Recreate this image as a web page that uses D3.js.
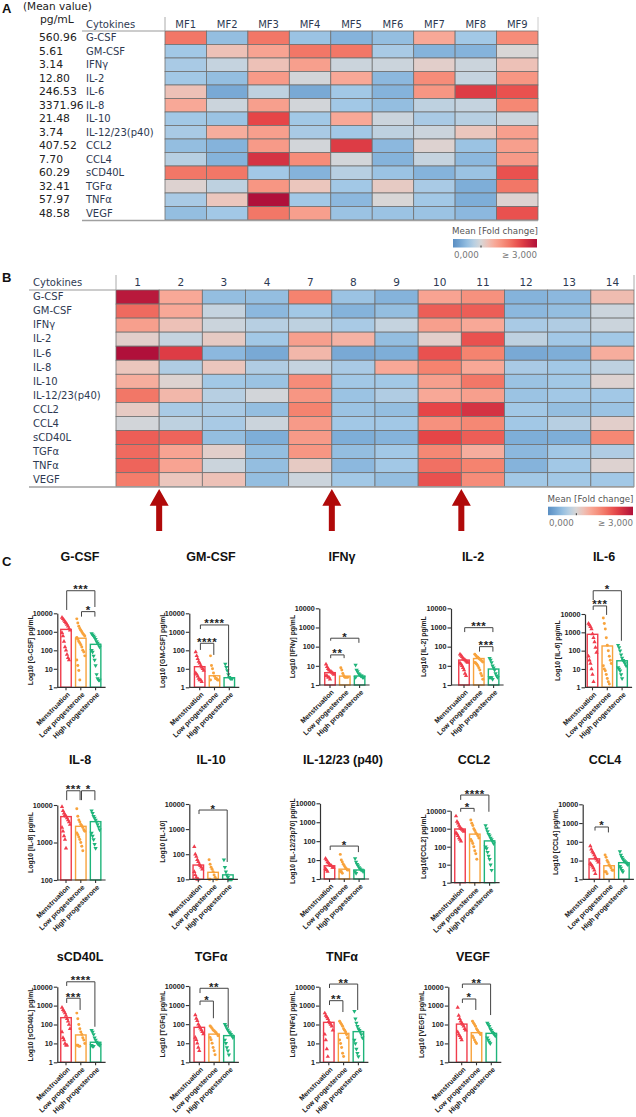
<!DOCTYPE html>
<html>
<head>
<meta charset="utf-8">
<title>Cytokines</title>
<script src="https://cdn.jsdelivr.net/npm/d3@7"></script>
<style>
  body { margin: 0; background: #fff }
  svg { display: block }
</style>
</head>
<body>
<svg width="636" height="1117"></svg>
<script>
// ---- data ----
var cytokines = ['G-CSF','GM-CSF','IFNγ','IL-2','IL-6','IL-8','IL-10','IL-12/23(p40)','CCL2','CCL4','sCD40L','TGFα','TNFα','VEGF']
var meanValues = ['560.96','5.61','3.14','12.80','246.53','3371.96','21.48','3.74','407.52','7.70','60.29','32.41','57.97','48.58']
var factors = ['MF1','MF2','MF3','MF4','MF5','MF6','MF7','MF8','MF9']
// fold change, rows = cytokines, cols = MF1..MF9
var foldA = [
  [2.0, .5, 2.0, .55, .4, .5, 1.5, .6, 1.8],
  [.6, 1.25, 1.55, 2.0, 2.0, .65, .4, .4, 1.0],
  [.65, .85, 1.25, 1.6, .9, .9, 1.1, .9, 1.25],
  [.6, .5, 1.65, .95, 1.5, .45, 1.8, .85, 1.7],
  [1.25, .3, .8, .3, .6, .4, 1.7, 2.5, 2.3],
  [1.5, .9, 1.6, .95, .6, .5, .8, .85, 1.85],
  [.6, .55, 2.4, .6, 1.5, .9, .65, .75, .9],
  [.65, 1.45, 1.6, .65, .6, .8, .9, 1.2, 1.6],
  [.5, .4, 1.65, .95, 2.5, .45, 1.05, .55, 1.6],
  [.75, .4, 2.6, 1.8, .95, .4, .85, .45, 1.65],
  [2.0, 2.0, .6, .4, .75, .55, .4, .55, 2.3],
  [1.05, .8, 1.7, 1.2, .6, 1.15, .65, .35, 2.0],
  [.65, 1.2, 3.0, .6, .45, 1.0, .6, .35, 1.05],
  [.5, .6, 2.0, 1.6, .55, .55, .55, .45, 2.3]
]
var clusters = ['1','2','3','4','7','8','9','10','11','12','13','14']
var foldB = [
  [2.9, 1.5, .5, .5, 1.9, .55, .4, 1.55, 1.75, .4, .45, 1.3],
  [2.1, 1.5, .85, .45, .6, .4, .5, 2.2, 2.2, .45, .5, .9],
  [1.6, 1.25, .9, .75, .8, .65, .85, 1.6, 1.5, .65, .7, .9],
  [1.1, .85, 1.15, .6, 1.6, 1.4, .5, 1.1, 2.3, .8, .6, .6],
  [3.0, 2.5, .45, .3, 1.35, .3, .35, 2.3, 1.9, .3, .35, 1.45],
  [1.2, .7, 1.2, .7, .85, .65, 1.5, 1.9, 1.5, .65, .6, .8],
  [1.45, 1.05, .6, .55, 1.8, .6, .6, 1.6, 2.0, .55, .6, 1.05],
  [2.0, 1.35, .75, .95, 1.7, .55, .7, 1.5, 1.6, .55, .6, .6],
  [1.15, .65, .65, .5, 1.9, .55, .5, 2.4, 2.6, .6, .5, .55],
  [.95, .8, .65, .9, 1.65, .6, .6, 1.75, 1.85, .6, .75, 1.1],
  [2.2, 2.15, .5, .35, 1.65, .35, .4, 2.4, 2.2, .35, .35, 1.85],
  [2.1, 1.55, 1.1, .5, 1.7, .5, .6, 1.85, 1.45, .45, .6, .7],
  [2.15, 1.55, .9, .5, 1.15, .45, .6, 2.05, 1.9, .4, .6, 1.05],
  [1.95, 1.2, 1.25, .5, .9, .6, .5, 2.3, 1.8, .6, .6, .6]
]
var arrowPairs = [['1','2'], ['7','8'], ['10','11']]

var groups = ['Menstruation','Low progesterone','High progesterone']
var plotTitles = ['G-CSF','GM-CSF','IFNγ','IL-2','IL-6','IL-8','IL-10','IL-12/23 (p40)','CCL2','CCL4','sCD40L','TGFα','TNFα','VEGF']
var yTitles = ['Log10 [G-CSF] pg/mL','Log10 [GM-CSF] pg/mL','Log10 [IFNγ] pg/mL','Log10 [IL-2] pg/mL','Log10 [IL-6] pg/mL',
  'Log10 [IL-8] pg/mL','Log10 [IL-10]','Log10 [IL-12/23p70] pg/mL','Log10[CCL2] pg/mL','Log10 [CCL4] pg/mL',
  'Log10 [sCD40L] pg/mL','Log10 [TGFα] pg/mL','Log10 [TNFα] pg/mL','Log10 [VEGF] pg/mL']
var yMin = [1, 1, 1, 1, 1, 100, 10, 1, 1, 1, 1, 1, 1, 1]
// bar heights (mean pg/mL) per group
var barMeans = [
  [1350, 450, 210], [13, 4.2, 3.3], [4.4, 2.9, 2.95], [20, 24, 6.8], [780, 180, 28],
  [4900, 2700, 3600], [37, 19, 15], [5, 3.3, 3], [960, 500, 210], [12.3, 5.3, 7.7],
  [230, 28, 11.5], [68, 30, 25], [130, 34, 42], [105, 37, 34]
]
// individual samples (pg/mL): [menstruation, low, high]
var samples = [
  [[6000,5000,4200,3500,3000,2500,2000,1500,1200,900,600,300,150,100,60,40,30],
   [5000,3000,2000,1500,1200,1000,800,700,600,500,400,300,250,200,150,100,80,50,30,15,8,2.5],
   [800,700,600,500,400,300,250,200,150,100,80,50,30,15,5,3,2.5,2.5]],
  [[80,50,35,25,20,15,12,10,8,6,5,4,3,2.5,2.5,2],
   [50,15,10,6,4,3,3,2.5,2.5,2.5],
   [18,12,8,5,3.5,3,3,3]],
  [[12,9,7,6,5,5,4.5,4,3.5,3,3,2.5,2.5,2],
   [8,6,4,3,2.5,2.5,2.5,2.5],
   [11,6,5,4,3.5,3,3,2.5,2.5,2.5]],
  [[40,35,30,25,22,20,18,16,15,14,12,10,8,6,4,3],
   [40,35,30,28,25,22,20,18,16,15,14,12,10,8,6,4,3,2],
   [25,20,15,10,8,6,4,3,2.5,2.5,2.5,2.5,2]],
  [[3000,2500,2000,1500,800,500,300,150,80,50,30,20,10,5,2],
   [6000,3000,1500,500,200,100,50,30,20,15,10,8,5,3,2,1.5],
   [200,150,100,60,40,30,25,20,15,12,10,8,5,3]],
  [[9000,7000,6000,5500,5000,4500,4000,3500,3000,2500,2000,1500,1200,700],
   [8000,5000,4000,3500,3000,2800,2500,2200,2000,1800,1600,1400,1200,1000,800,600],
   [7000,6000,5000,4500,4000,3500,3000,2600,2200,1800,1500,1200,900,700]],
  [[200,100,80,60,50,40,35,30,25,20,15,12,10,10],
   [60,40,30,25,20,15,12,10,10,10,10],
   [60,30,20,15,12,10,10,10,10]],
  [[12,10,8,7,6,5,5,4,4,3.5,3,2.5],
   [20,10,8,6,5,4,3.5,3,3,2.5,2.5,2],
   [12,8,6,5,4,3.5,3,3,2.5,2.5,2]],
  [[5000,2500,2000,1500,1200,1000,900,800,700,600,500,400,300,250,200],
   [3000,2000,1500,1000,800,600,500,400,300,250,200,150,100,60,40,20],
   [1500,1000,700,500,400,300,250,200,150,100,80,50,30,20,10,5]],
  [[60,40,30,25,20,15,12,10,8,7,6,5,4,3,2],
   [20,15,10,8,6,5,4,3,3,2.5,2.5,2],
   [30,20,15,12,10,9,8,7,6,5,4,3,2.5]],
  [[800,600,500,400,300,200,150,100,60,40,20,15,10,8,8],
   [400,200,100,60,40,30,20,15,10,8,8,7,7],
   [50,40,30,20,15,12,10,9,8,8,7,7]],
  [[300,200,150,100,80,60,50,40,30,20,15,10,6,4],
   [80,70,60,50,45,40,35,30,25,20,15,10,6,4,2.5],
   [100,80,60,50,40,35,30,25,20,15,10,6,4,2.5]],
  [[400,300,250,200,150,120,100,80,50,30,15,5,2],
   [150,120,100,80,60,50,40,30,20,15,10,6,3,2],
   [500,200,120,80,60,50,40,30,20,15,10,5,3,2]],
  [[800,300,200,150,120,100,80,60,50,40,30,25,20,15],
   [150,120,100,80,60,50,40,35,30,25,20,15,12,10],
   [120,100,80,60,50,40,35,30,25,20,15,12,10]]
]
// significance: [groupA, groupB, stars, bracket level, left leg end, right leg end] (log10 pg/mL)
var sigs = [
  [[0,2,'***',5.22,4.18,4.34],[1,2,'*',4.09,3.82,3.82]],
  [[0,2,'****',3.37,3.15,.6],[0,1,'****',2.38,2.02,1.75]],
  [[0,2,'*',2.44,2.31,2.2],[0,1,'**',1.57,1.4,1.4]],
  [[0,2,'***',2.99,2.76,2.76],[1,2,'***',2.0,1.74,1.74]],
  [[0,2,'*',5.27,4.76,2.54],[0,1,'***',4.44,4.22,3.95]],
  [[0,1,'***',4.38,4.13,4.13],[1,2,'*',4.38,4.13,4.13]],
  [[0,2,'*',3.76,3.6,1.69]],
  [[0,2,'*',1.74,1.53,1.42]],
  [[0,2,'****',4.87,4.6,3.94],[0,1,'*',4.13,3.94,3.94]],
  [[0,1,'*',2.79,2.6,2.5]],
  [[0,2,'****',4.26,4.04,1.88],[0,1,'***',3.39,3.14,2.77]],
  [[0,2,'**',3.88,3.63,1.83],[0,1,'*',3.21,3.0,2.31]],
  [[0,2,'**',4.14,3.93,2.77],[0,1,'**',3.26,3.03,2.66]],
  [[0,2,'**',4.14,3.93,2.5],[0,1,'*',3.35,3.14,2.77]]
]

// ---- layout (pixels) ----
// per plot: y axis x, first bar centre, top (10000) and bottom tick y, title centre
var plotLayout = [
  {ax: 57.3, x0: 66, top: 613.3, bot: 687.3, tx: 80, ty: 561},
  {ax: 189.3, x0: 199.7, top: 613.3, bot: 687.3, tx: 211, ty: 561},
  {ax: 319.3, x0: 330, top: 608.3, bot: 685, tx: 342, ty: 561},
  {ax: 451, x0: 464, top: 608.3, bot: 685, tx: 473, ty: 561},
  {ax: 585, x0: 592.5, top: 614, bot: 687.3, tx: 604, ty: 561},
  {ax: 57.3, x0: 66, top: 805, bot: 880, tx: 80, ty: 764},
  {ax: 189.3, x0: 198.3, top: 804, bot: 879.3, tx: 211, ty: 764},
  {ax: 320, x0: 329.5, top: 803.3, bot: 879, tx: 343, ty: 764},
  {ax: 450.7, x0: 460, top: 810.7, bot: 882.7, tx: 474, ty: 764},
  {ax: 582.7, x0: 594.3, top: 804.3, bot: 879.3, tx: 605, ty: 764},
  {ax: 57.3, x0: 66, top: 986.7, bot: 1062.3, tx: 80, ty: 961},
  {ax: 189.3, x0: 199.3, top: 986, bot: 1062.3, tx: 211, ty: 961},
  {ax: 319.5, x0: 328.8, top: 986.7, bot: 1062.3, tx: 342, ty: 961},
  {ax: 448.3, x0: 461.7, top: 986.7, bot: 1062.3, tx: 473, ty: 961}
]
var groupColors = ['#f03c4c', '#f8a33c', '#1eb47a']

var svg = d3.select('svg')
var tableFont = '"DejaVu Sans", Verdana, sans-serif'
var plotFont = '"Liberation Sans", Arial, sans-serif'
var labelColor = '#2e3a52'

var heat = d3.scaleLinear()
  .domain([0, .35, .6, .85, 1, 1.2, 1.5, 1.9, 2.4, 3])
  .range(['#5a8ec2','#7eaed8','#a2c8e6','#c5d3df','#d8d6d6','#ebc6bd','#f8a897','#f5836f','#e64547','#b0103a'])
  .clamp(true)

var grad = svg.append('defs').append('linearGradient').attr('id', 'foldGrad')
d3.range(0, 3.01, .25).forEach(function (v) {
  grad.append('stop').attr('offset', v / 3).attr('stop-color', heat(v))
})

function panelLetter (txt, x, y) {
  svg.append('text').attr('x', x).attr('y', y).text(txt)
    .style('font', 'bold 13px ' + plotFont).attr('fill', '#111')
}

function legend (x, y, w) {
  var g = svg.append('g').style('font-family', tableFont).style('font-size', '8.7px').attr('fill', '#555')
  g.append('text').attr('x', x + w / 2).attr('y', y - 5).attr('text-anchor', 'middle').text('Mean [Fold change]')
  g.append('rect').attr('x', x).attr('y', y).attr('width', w).attr('height', 8.5).attr('fill', 'url(#foldGrad)')
  var s = d3.scaleLinear().domain([0, 3]).range([x, x + w])
  g.append('line').attr('x1', s(1)).attr('x2', s(1)).attr('y1', y + 6.5).attr('y2', y + 8.5).attr('stroke', '#333')
  g.append('text').attr('x', x + 1).attr('y', y + 19).text('0,000').attr('fill', '#777')
  g.append('text').attr('x', x + w).attr('y', y + 19).attr('text-anchor', 'end').text('≥ 3,000').attr('fill', '#777')
}

// ---- panel A ----
panelLetter('A', 2, 13)
var xA = d3.scaleBand().domain(factors).range([165, 538])
var yA = d3.scaleBand().domain(cytokines).range([31, 220])
var gA = svg.append('g').style('font-family', tableFont)
gA.append('text').attr('x', 23).attr('y', 10).text('(Mean value)').style('font-size', '10.5px').attr('fill', '#222')
gA.append('text').attr('x', 40).attr('y', 23).text('pg/mL').style('font-size', '10.8px').attr('fill', '#222')
gA.append('text').attr('x', 86).attr('y', 28).text('Cytokines').style('font-size', '10px').attr('fill', labelColor)
gA.selectAll('.mf').data(factors).enter().append('text')
  .attr('x', function (d) { return xA(d) + xA.bandwidth() / 2 }).attr('y', 28)
  .attr('text-anchor', 'middle').style('font-size', '10px').attr('fill', labelColor).text(String)
cytokines.forEach(function (c, i) {
  gA.selectAll(null).data(foldA[i]).enter().append('rect')
    .attr('x', function (d, j) { return xA(factors[j]) }).attr('y', yA(c))
    .attr('width', xA.bandwidth()).attr('height', yA.bandwidth())
    .attr('fill', function (d) { return heat(d) }).attr('stroke', '#707070').attr('stroke-width', .8)
  gA.append('text').attr('x', 86).attr('y', yA(c) + 10).text(c).style('font-size', '10px').attr('fill', labelColor)
  gA.append('text').attr('x', 39).attr('y', yA(c) + 10).text(meanValues[i]).style('font-size', '10.8px').attr('fill', '#222')
})
gA.append('line').attr('x1', 82).attr('x2', 165).attr('y1', 31).attr('y2', 31).attr('stroke', '#999')
gA.append('line').attr('x1', 165).attr('x2', 165).attr('y1', 17).attr('y2', 31).attr('stroke', '#aaa')
gA.append('line').attr('x1', 538).attr('x2', 538).attr('y1', 17).attr('y2', 31).attr('stroke', '#ccc')
gA.append('line').attr('x1', 82).attr('x2', 538).attr('y1', 220.5).attr('y2', 220.5).attr('stroke', '#a0a0a0').attr('stroke-width', 1.5)
legend(453, 239, 84)

// ---- panel B ----
panelLetter('B', 2, 282)
var xB = d3.scaleBand().domain(clusters).range([116, 634])
var yB = d3.scaleBand().domain(cytokines).range([290, 486.7])
var gB = svg.append('g').style('font-family', tableFont)
gB.append('text').attr('x', 33).attr('y', 286).text('Cytokines').style('font-size', '10px').attr('fill', labelColor)
gB.selectAll('.cl').data(clusters).enter().append('text')
  .attr('x', function (d) { return xB(d) + xB.bandwidth() / 2 }).attr('y', 286)
  .attr('text-anchor', 'middle').style('font-size', '10.5px').attr('fill', labelColor).text(String)
cytokines.forEach(function (c, i) {
  gB.selectAll(null).data(foldB[i]).enter().append('rect')
    .attr('x', function (d, j) { return xB(clusters[j]) }).attr('y', yB(c))
    .attr('width', xB.bandwidth()).attr('height', yB.bandwidth())
    .attr('fill', function (d) { return heat(d) }).attr('stroke', '#707070').attr('stroke-width', .8)
  gB.append('text').attr('x', 33).attr('y', yB(c) + 10.3).text(c).style('font-size', '10px').attr('fill', labelColor)
})
gB.append('line').attr('x1', 29).attr('x2', 116).attr('y1', 290).attr('y2', 290).attr('stroke', '#999')
gB.append('line').attr('x1', 116).attr('x2', 116).attr('y1', 275).attr('y2', 290).attr('stroke', '#aaa')
gB.append('line').attr('x1', 634).attr('x2', 634).attr('y1', 275).attr('y2', 290).attr('stroke', '#aaa')
gB.append('line').attr('x1', 29).attr('x2', 634).attr('y1', 487).attr('y2', 487).attr('stroke', '#a0a0a0').attr('stroke-width', 1.5)
arrowPairs.forEach(function (p) {
  var bx = xB(p[1])
  gB.append('path')
    .attr('d', 'M' + bx + ',489L' + (bx + 9.5) + ',505.7L' + (bx + 3) + ',505.7L' + (bx + 3) + ',531L' +
      (bx - 3) + ',531L' + (bx - 3) + ',505.7L' + (bx - 9.5) + ',505.7Z')
    .attr('fill', '#b00a0a')
})
legend(548, 506.7, 85)

// ---- panel C ----
panelLetter('C', 2, 566)
var step = 14.8, barW = 10.5
var shapes = [d3.symbolTriangle, d3.symbolCircle, d3.symbolTriangle]

plotTitles.forEach(function (title, k) {
  var L = plotLayout[k]
  var g = svg.append('g').style('font-family', plotFont)
  var y = d3.scaleLog().domain([yMin[k], 10000]).range([L.bot, L.top])
  var x = d3.scalePoint().domain(groups).range([L.x0, L.x0 + 2 * step])
  var xEnd = L.x0 + 2 * step + 10

  g.append('text').attr('x', L.tx).attr('y', L.ty).attr('text-anchor', 'middle')
    .style('font-weight', 'bold').style('font-size', '12.5px').attr('fill', '#111').text(title)

  // bars
  g.selectAll('.bar').data(barMeans[k]).enter().append('rect')
    .attr('x', function (d, i) { return x(groups[i]) - barW / 2 })
    .attr('y', function (d) { return y(d) })
    .attr('width', barW).attr('height', function (d) { return L.bot - y(d) })
    .attr('fill', 'none').attr('stroke', function (d, i) { return groupColors[i] }).attr('stroke-width', 1.4)

  // samples
  samples[k].forEach(function (vals, gi) {
    g.selectAll(null).data(vals).enter().append('path')
      .attr('d', d3.symbol().type(shapes[gi]).size(gi == 1 ? 7 : 8))
      .attr('transform', function (d, i) {
        var jx = (((i * 37) % 9) - 4) * 1
        return 'translate(' + (x(groups[gi]) + jx) + ',' + y(d) + ')' + (gi == 2 ? ' rotate(180)' : '')
      })
      .attr('fill', groupColors[gi])
  })

  // y axis
  var ticks = d3.range(Math.log10(yMin[k]), 5).map(function (e) { return Math.pow(10, e) })
  var ya = g.append('g').attr('transform', 'translate(' + L.ax + ',0)')
    .call(d3.axisLeft(y).tickValues(ticks).tickFormat(d3.format('d')).tickSize(3.5).tickSizeOuter(0))
  ya.select('.domain').attr('stroke', '#333').attr('stroke-width', 1.2)
  ya.selectAll('.tick line').attr('stroke', '#333').attr('stroke-width', 1.1)
  ya.selectAll('.tick text').style('font', 'bold 7.2px ' + plotFont).attr('fill', '#222').attr('x', -4.5)

  g.append('text').attr('transform', 'translate(' + (L.ax - 27) + ',' + ((L.top + L.bot) / 2) + ') rotate(-90)')
    .attr('text-anchor', 'middle').attr('dy', '0.35em')
    .style('font-weight', 'bold').style('font-size', '6.8px').attr('fill', '#222').text(yTitles[k])

  // x axis
  g.append('line').attr('x1', L.ax).attr('x2', xEnd).attr('y1', L.bot).attr('y2', L.bot)
    .attr('stroke', '#333').attr('stroke-width', 1.2)
  groups.forEach(function (gr) {
    g.append('line').attr('x1', x(gr)).attr('x2', x(gr)).attr('y1', L.bot).attr('y2', L.bot + 3)
      .attr('stroke', '#333').attr('stroke-width', 1.1)
    g.append('text')
      .attr('transform', 'translate(' + (x(gr) + 2.5) + ',' + (L.bot + 6) + ') rotate(-45)')
      .attr('text-anchor', 'end').attr('dy', '0.35em')
      .style('font-weight', 'bold').style('font-size', '7px').attr('fill', '#222').text(gr)
  })

  // brackets
  sigs[k].forEach(function (s) {
    var xa = x(groups[s[0]]) + .7, xb = x(groups[s[1]]) - .7
    var yl = y(Math.pow(10, s[3]))
    g.append('path')
      .attr('d', 'M' + xa + ',' + y(Math.pow(10, s[4])) + 'V' + yl + 'H' + xb + 'V' + y(Math.pow(10, s[5])))
      .attr('fill', 'none').attr('stroke', '#444').attr('stroke-width', 1)
    g.append('text').attr('x', (xa + xb) / 2).attr('y', yl + 2.5).attr('text-anchor', 'middle')
      .style('font-weight', 'bold').style('font-size', '11.5px').style('letter-spacing', '0.6px')
      .attr('fill', '#222').text(s[2])
  })
})
</script>
</body>
</html>
